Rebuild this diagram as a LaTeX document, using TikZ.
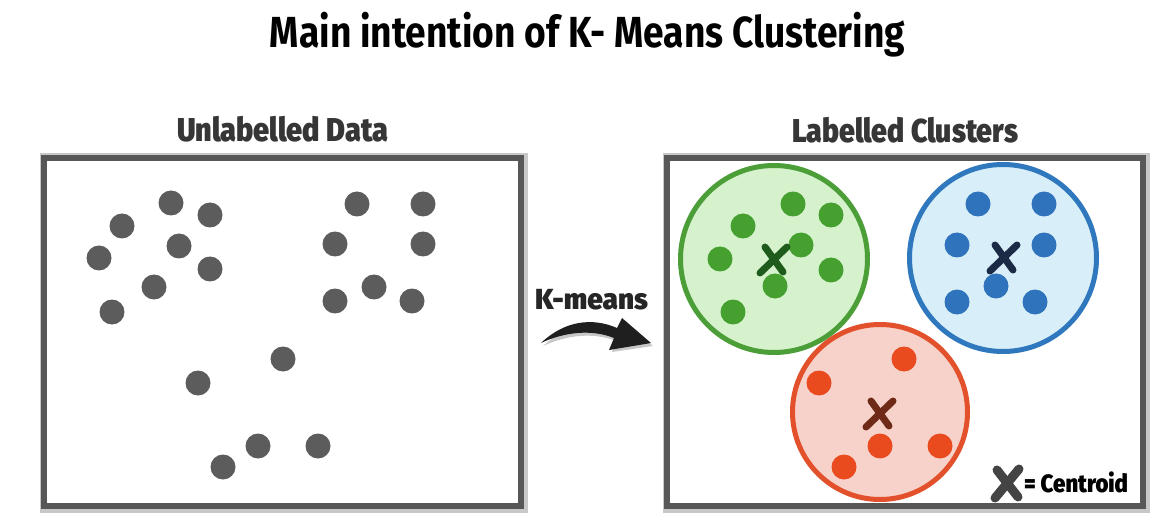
\documentclass[tikz,border=0pt]{standalone}
\usepackage{fontspec}
\usepackage{graphicx}
\setmainfont{Fira Sans}
\newfontfamily\heavy{Fira Sans Black}
\definecolor{boxgray}{HTML}{575757}
\definecolor{boxshadow}{HTML}{C8C8C8}
\definecolor{dotgray}{HTML}{5C5C5C}
\definecolor{gstroke}{HTML}{4C9F38}
\definecolor{gfill}{HTML}{D5F2CD}
\definecolor{gdotc}{HTML}{45A02F}
\definecolor{gx}{HTML}{1F5C1C}
\definecolor{bstroke}{HTML}{2F78BE}
\definecolor{bfill}{HTML}{D8EEF9}
\definecolor{bdotc}{HTML}{2E73BB}
\definecolor{bx}{HTML}{1B2B45}
\definecolor{rstroke}{HTML}{E2512B}
\definecolor{rfill}{HTML}{F7D2CA}
\definecolor{rdotc}{HTML}{E94B1F}
\definecolor{rx}{HTML}{6E2A17}
\definecolor{txt}{HTML}{363636}
\definecolor{legx}{HTML}{444444}
\begin{document}
\begin{tikzpicture}[x=1pt,y=-1pt,
  dotbase/.style={circle,inner sep=0pt,minimum size=25pt},
  graydot/.style={dotbase,fill=dotgray},
  gdot/.style={dotbase,fill=gdotc},
  bdot/.style={dotbase,fill=bdotc},
  rdot/.style={dotbase,fill=rdotc},
  panel/.style={draw=boxgray,line width=6pt},
  panelshadow/.style={draw=boxshadow,line width=11pt},
  cluster/.style={circle,inner sep=0pt,line width=5pt},
  headtxt/.style={inner sep=0pt,anchor=base,text=txt},
  xmark/.pic={
    \draw[line width=7pt,line cap=round] (-13,14) -- (14,-12);
    \draw[line width=7pt,line cap=round] (-8,-12) -- (10,13);
  },
  bigxmark/.pic={
    \draw[line width=9pt,line cap=round] (-12,15) -- (12,-14);
    \draw[line width=9pt,line cap=round] (-10,-13) -- (11,14);
  }
]
\useasboundingbox[fill=white] (0,0) rectangle (1172,529);

% title
\node[inner sep=0pt,anchor=base] (title) at (587.5,48)
  {\resizebox{635pt}{\height}{\fontsize{43.5}{44}\selectfont\bfseries Main intention of K- Means Clustering}};

% panels
\draw[panelshadow] (45,159) rectangle (522,507);
\draw[panelshadow] (668,159) rectangle (1144,507);
\node[panel,fill=white,inner sep=0pt,minimum width=477pt,minimum height=348pt] (left) at (282.5,332) {};
\node[panel,fill=white,inner sep=0pt,minimum width=476pt,minimum height=348pt] (right) at (905,332) {};

% panel headings
\node[headtxt] (lhead) at (282.5,142) {\resizebox{211pt}{\height}{\fontsize{33}{33}\selectfont\heavy Unlabelled Data}};
\node[headtxt] (rhead) at (905,143) {\resizebox{226pt}{\height}{\fontsize{33}{33}\selectfont\heavy Labelled Clusters}};

% unlabelled data
\foreach \px/\py [count=\i] in {171/203,210/215,122/226,179/246,99/258,210/269,154/287,112/312,
  357/204,423/204,335/244,423/244,374/287,335/301,412/301,
  283/359,198/383,258/446,318/446,223/467}
  \node[graydot] (u\i) at (\px,\py) {};

% green cluster
\node[cluster,draw=gstroke,fill=gfill,minimum size=187pt] (gc) at (774,259) {};
\foreach \px/\py [count=\i] in {793/204,831/215,743/226,801/245,720/259,831/270,775/286,733/312}
  \node[gdot] (g\i) at (\px,\py) {};
\pic[color=gx] (gcen) at (773,259) {xmark};

% blue cluster
\node[cluster,draw=bstroke,fill=bfill,minimum size=187pt] (bc) at (1003,258) {};
\foreach \px/\py [count=\i] in {978/204,1044/204,957/245,1044/245,996/286,957/302,1035/302}
  \node[bdot] (b\i) at (\px,\py) {};
\pic[color=bx] (bcen) at (1003,257) {xmark};

% red cluster
\node[cluster,draw=rstroke,fill=rfill,minimum size=175pt] (rc) at (880,412) {};
\foreach \px/\py [count=\i] in {904/359,819/383,880/446,940/446,844/467}
  \node[rdot] (r\i) at (\px,\py) {};
\pic[color=rx] (rcen) at (879,413) {xmark};

% legend
\pic[color=legx] (lx) at (1007,483) {bigxmark};
\node[headtxt,text=black] (legend) at (1076,492) {\resizebox{104pt}{\height}{\fontsize{25}{25}\selectfont\heavy = Centroid}};

% K-means arrow
\node[headtxt,text=black!85] (km) at (591.5,309) {\resizebox{113pt}{\height}{\fontsize{29}{29}\selectfont\heavy K-means}};
\fill[black!22] (543,346) .. controls (566,325) and (594,321) .. (619,332)
  -- (624,322) -- (653,346) -- (612,352) -- (616,341)
  .. controls (594,332) and (566,335) .. cycle;
\fill[black!88] (541,343) .. controls (564,321) and (592,317) .. (617,328)
  -- (622,318) -- (651,343) -- (609,350) -- (614,338)
  .. controls (592,329) and (564,332) .. cycle;
\end{tikzpicture}
\end{document}
